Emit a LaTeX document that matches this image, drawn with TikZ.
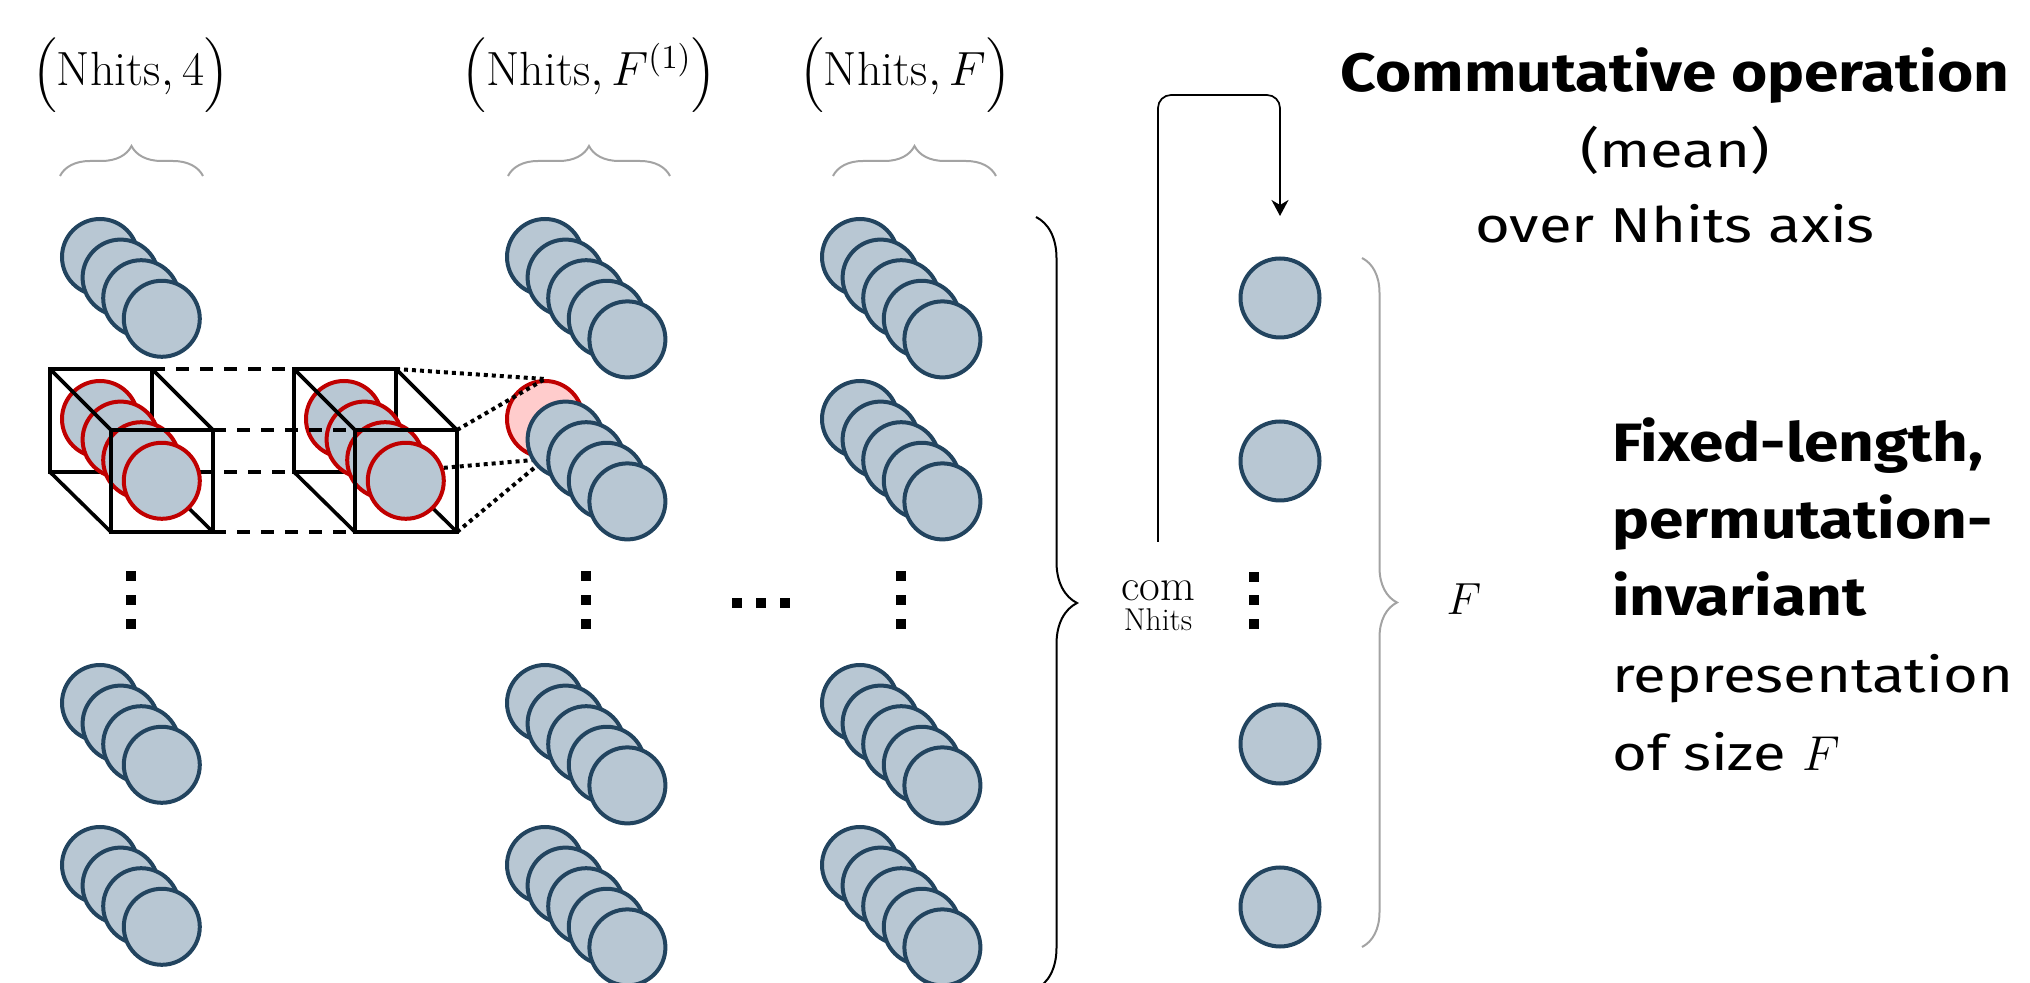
\RequirePackage{fix-cm}
\documentclass[tikz,border=0pt]{standalone}
\usepackage{amsmath}
\usepackage{exscale}
\usepackage{fontspec}
\newfontfamily\noteboldfam{Fira Sans}[FakeStretch=1.15]
\newfontfamily\noteplainfam{Fira Sans}[FakeStretch=1.22]
\usetikzlibrary{arrows.meta,decorations.pathreplacing}

\definecolor{discfill}{HTML}{B8C7D3}
\definecolor{discline}{HTML}{22445F}
\definecolor{hitred}{HTML}{C00000}
\definecolor{hitpink}{HTML}{FFCCCC}
\definecolor{bracegray}{HTML}{A3A3A3}

% tall parentheses around the tensor shapes
\newcommand{\shapeopen}{{\fontsize{21.5}{26}\selectfont$\Big($}}
\newcommand{\shapeclose}{{\fontsize{21.5}{26}\selectfont$\Big)$}}

\tikzset{
  disc/.style={circle, draw=discline, fill=discfill, line width=2pt,
    minimum size=38pt, inner sep=0pt},
  hitdisc/.style={disc, draw=hitred},
  pickdisc/.style={disc, draw=hitred, fill=hitpink},
  outdisc/.style={disc, minimum size=39.5pt},
  cubeedge/.style={line width=1.8pt, line join=miter},
  cubelink/.style={line width=1.8pt, dash pattern=on 6.5pt off 5.5pt},
  pickline/.style={line width=2pt, dash pattern=on 2pt off 2pt},
  dotmark/.style={rectangle, fill=black, minimum size=5pt, inner sep=0pt},
  graybrace/.style={draw=bracegray, line width=1pt, decorate,
    decoration={brace, amplitude=#1}},
  blackbrace/.style={draw=black, line width=1pt, decorate,
    decoration={brace, amplitude=#1}},
  tap/.style={line width=0.85pt, -{Stealth[length=8pt, width=8.5pt, inset=2.5pt]}},
  mathlabel/.style={font=\fontsize{24}{29}\selectfont, inner sep=0pt},
  oplabel/.style={font=\fontsize{22.5}{27}\selectfont, inner sep=0pt},
  boldnote/.style={font=\noteboldfam\bfseries\fontsize{27}{32}\selectfont, inner sep=0pt},
  plainnote/.style={font=\noteplainfam\fontsize{24.5}{29}\selectfont, inner sep=0pt},
}

% draw the hidden-side edges of an open cube (back face + three depth edges)
\newcommand{\cubeback}[1]{%
  \draw[cubeedge] (#1-btl) rectangle (#1-bbr);
  \draw[cubeedge] (#1-btr) -- (#1-ftr);
  \draw[cubeedge] (#1-bbl) -- (#1-fbl);
  \draw[cubeedge] (#1-bbr) -- (#1-fbr);}
% draw the visible front face and the remaining depth edge
\newcommand{\cubefront}[1]{%
  \draw[cubeedge] (#1-ftl) rectangle (#1-fbr);
  \draw[cubeedge] (#1-btl) -- (#1-ftl);}

\begin{document}
\begin{tikzpicture}[x=0.5pt, y=-0.5pt]
\useasboundingbox (0,0) rectangle (2030,983);

% ---------- corners of the two sliding windows ----------
\foreach \c/\ox in {cubeA/0, cubeB/244} {
  \coordinate (\c-btl) at (50+\ox,369);
  \coordinate (\c-btr) at (152+\ox,369);
  \coordinate (\c-bbl) at (50+\ox,472);
  \coordinate (\c-bbr) at (152+\ox,472);
  \coordinate (\c-ftl) at (111+\ox,430);
  \coordinate (\c-ftr) at (213+\ox,430);
  \coordinate (\c-fbl) at (111+\ox,532);
  \coordinate (\c-fbr) at (213+\ox,532);
}

% ---------- regular hit stacks ----------
\foreach \col/\x/\n in {1/100/4, 2/545/5, 3/860/5} {
  \foreach \row/\y in {1/257, 4/703, 5/865} {
    \foreach \k in {1,...,\n} {
      \node[disc] (s-\col-\row-\k) at ({\x+20.6*(\k-1)}, {\y+20.6*(\k-1)}) {};
    }
  }
}
\foreach \k in {1,...,5} {
  \node[disc] (s-3-2-\k) at ({860+20.6*(\k-1)}, {419+20.6*(\k-1)}) {};
}

% ---------- selected output feature ----------
\node[pickdisc] (pick) at (545,419) {};
\draw[pickline] (cubeB-btr) -- (pick.north);
\draw[pickline] (cubeB-ftr) -- (pick.north);
\draw[pickline] (cubeB-bbr) -- (pick.south);
\draw[pickline] (cubeB-fbr) -- (pick.south);

% ---------- second window ----------
\cubeback{cubeB}
\foreach \k in {1,...,4} {
  \node[hitdisc] (w-2-\k) at ({344+20.6*(\k-1)}, {419+20.6*(\k-1)}) {};
}

% ---------- links between the windows ----------
\draw[cubelink] (cubeA-btr) -- (cubeB-btl);
\draw[cubelink] (cubeA-ftr) -- (cubeB-ftl);
\draw[cubelink] (cubeA-bbr) -- (cubeB-bbl);
\draw[cubelink] (cubeA-fbr) -- (cubeB-fbl);

% ---------- first window ----------
\cubeback{cubeA}
\foreach \k in {1,...,4} {
  \node[hitdisc] (w-1-\k) at ({100+20.6*(\k-1)}, {419+20.6*(\k-1)}) {};
}
\cubefront{cubeB}
\cubefront{cubeA}

% remaining features of the selected stack
\foreach \k in {2,...,5} {
  \node[disc] (s-2-2-\k) at ({545+20.6*(\k-1)}, {419+20.6*(\k-1)}) {};
}

% ---------- ellipsis marks ----------
\foreach \x [count=\i] in {131, 586, 901} {
  \foreach \y [count=\j] in {576, 600, 624} {
    \node[dotmark] (v-\i-\j) at (\x,\y) {};
  }
}
\foreach \x [count=\i] in {737, 761, 785} {
  \node[dotmark] (h-\i) at (\x,603) {};
}
\foreach \y [count=\j] in {577, 600, 624} {
  \node[dotmark] (o-\j) at (1254,\y) {};
}

% ---------- pooled representation ----------
\foreach \y [count=\j] in {298, 461, 744, 907} {
  \node[outdisc] (out-\j) at (1280,\y) {};
}

% ---------- braces ----------
\draw[graybrace=15pt] (60,176) -- (203,176);
\draw[graybrace=15pt] (508,176) -- (670,176);
\draw[graybrace=15pt] (833,176) -- (996,176);
\draw[blackbrace=20.5pt] (1036,217) -- (1036,989);
\draw[graybrace=17.5pt] (1362,258) -- (1362,947);

% ---------- pooling arrow ----------
\coordinate (tapStart) at (1158,542);
\coordinate (tapTop) at (1220,95);
\coordinate (tapEnd) at (1280,216);
\draw[tap, rounded corners=6.5pt] (tapStart) |- (tapTop) -| (tapEnd);

% ---------- shape labels ----------
\node[mathlabel, anchor=base] (shape-a) at (130.5,86) {\shapeopen$\mathrm{Nhits},4$\shapeclose};
\node[mathlabel, anchor=base] (shape-b) at (589,86) {\shapeopen$\mathrm{Nhits},F^{(1)}$\shapeclose};
\node[mathlabel, anchor=base] (shape-c) at (905,86) {\shapeopen$\mathrm{Nhits},F$\shapeclose};
\node[oplabel, anchor=base] (comop) at (1158,601) {$\displaystyle\operatorname*{com}_{\mathrm{Nhits}}$};
\node[oplabel, anchor=base] (fsize) at (1464,615) {$F$};

% ---------- notes ----------
\node[boldnote, anchor=base] (title) at (1675,92) {Commutative operation};
\node[plainnote, anchor=base] (mean) at (1675,168) {(mean)};
\node[plainnote, anchor=base] (axis) at (1675,243) {over Nhits axis};

\node[boldnote, anchor=base west] (res-1) at (1612,462) {Fixed-length,};
\node[boldnote, anchor=base west] (res-2) at (1612,539) {permutation-};
\node[boldnote, anchor=base west] (res-3) at (1612,616) {invariant};
\node[plainnote, anchor=base west] (res-4) at (1612,693) {representation};
\node[plainnote, anchor=base west] (res-5) at (1612,770) {of size $F$};
\end{tikzpicture}
\end{document}
